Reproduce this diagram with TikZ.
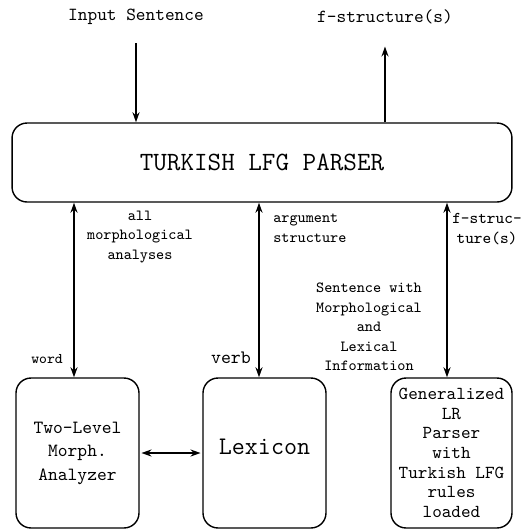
\documentclass[tikz,border=0pt]{standalone}
\usepackage{fontspec}
\usetikzlibrary{positioning,arrows.meta}

\begin{document}
\begin{tikzpicture}[
    x=0.02cm, y=-0.02cm,
    boxnode/.style={draw, rounded corners=0.3cm, line width=0.8pt, minimum width=2.46cm, minimum height=3cm, align=center, inner sep=0pt},
    lbl/.style={align=center, inner sep=0pt, font=\ttfamily\fontsize{8.8}{11.3}\selectfont},
    arr/.style={line width=1pt, -{Stealth[length=2mm,width=1.4mm]}},
    dblarr/.style={line width=1pt, {Stealth[length=2mm,width=1.4mm]}-{Stealth[length=2mm,width=1.4mm]}}
]
    \useasboundingbox (0,0) rectangle (528,529);

    \node[draw, rounded corners=0.3cm, line width=0.8pt, minimum width=10cm, minimum height=1.58cm, font=\ttfamily\fontsize{15}{18}\selectfont] (parser) at (262,162.5) {TURKISH LFG PARSER};

    \node[lbl, font=\ttfamily\fontsize{10.5}{13}\selectfont] (input) at (136,17) {Input Sentence};
    \node[lbl, font=\ttfamily\fontsize{10.5}{13}\selectfont] (fstruct) at (385,17) {f-structure(s)};
    \draw[arr] ([yshift=-0.36cm]input.south) -- (input.south |- parser.north);
    \draw[arr] (fstruct.south |- parser.north) -- ([yshift=-0.44cm]fstruct.south);

    \node[boxnode, font=\ttfamily\fontsize{10.6}{13.4}\selectfont] (morph) at (77.5,453) {Two-Level\\Morph.\\Analyzer};
    \node[boxnode, font=\ttfamily\fontsize{14.4}{17}\selectfont] (lexicon) at (264.5,453) {\raisebox{0.24cm}{Lexicon}};
    \node[boxnode, minimum width=2.42cm, font=\ttfamily\fontsize{10.4}{11.2}\selectfont] (glr) at (451.5,453) {Generalized\\LR\\Parser\\with\\Turkish LFG\\rules\\loaded};

    \draw[dblarr] ([xshift=-0.07cm]morph.north |- parser.south) -- ([xshift=-0.07cm]morph.north);
    \draw[dblarr] ([xshift=-0.11cm]lexicon.north |- parser.south) -- ([xshift=-0.11cm]lexicon.north);
    \draw[dblarr] ([xshift=-0.09cm]glr.north |- parser.south) -- ([xshift=-0.09cm]glr.north);
    \draw[dblarr, shorten <=1pt, shorten >=1pt] (morph.east) -- (lexicon.west);

    \node[lbl] (allmorph) at (140,237) {all\\morphological\\analyses};
    \node[lbl, anchor=west, align=left] (argstruct) at (273,228) {argument\\structure};
    \node[lbl, font=\ttfamily\fontsize{9.4}{11}\selectfont] (fstrucb) at (487,229) {f-struc-\\ture(s)};
    \node[lbl, font=\ttfamily\fontsize{8.8}{11.1}\selectfont] (sentinfo) at (369,327) {Sentence with\\Morphological\\and\\Lexical\\Information};
    \node[lbl, font=\ttfamily\fontsize{8.4}{10}\selectfont] (word) at (47,359) {word};
    \node[lbl, font=\ttfamily\fontsize{10.8}{13}\selectfont] (verb) at (231,358) {verb};
\end{tikzpicture}
\end{document}
